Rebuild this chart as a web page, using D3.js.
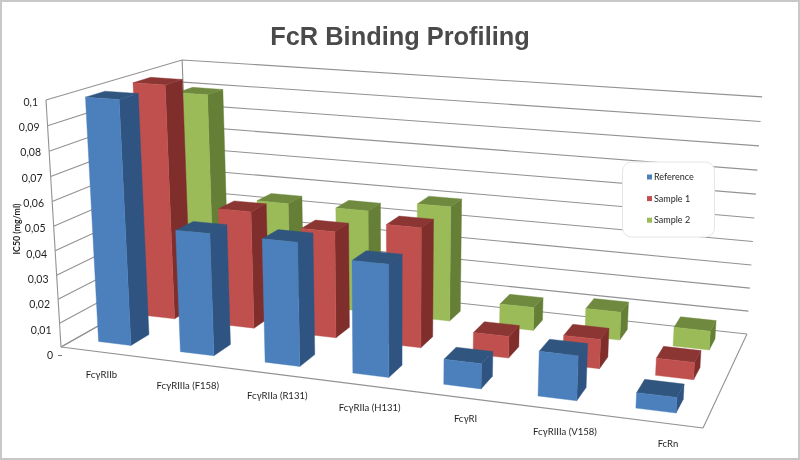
<!DOCTYPE html>
<html><head><meta charset="utf-8">
<script src="https://cdnjs.cloudflare.com/ajax/libs/d3/7.8.5/d3.min.js"></script>
<style>html,body{margin:0;padding:0;background:#fff}svg{display:block;filter:blur(0.35px)}</style>
</head><body><svg id="c" width="800" height="460"></svg>
<script>
const title = "FcR Binding Profiling";
const axisTitle = "IC50 (mg/ml)";
const categories = ["FcγRIIb","FcγRIIIa (F158)","FcγRIIa (R131)","FcγRIIa (H131)","FcγRI","FcγRIIIa (V158)","FcRn"];
const seriesNames = ["Reference","Sample 1","Sample 2"];
const reference = [0.1,0.05,0.05,0.045,0.01,0.0175,0.006];
const sample1   = [0.1,0.05,0.045,0.05,0.009,0.012,0.007];
const sample2   = [0.09,0.045,0.045,0.05,0.01,0.012,0.008];
const seriesValues = [reference,sample1,sample2];
const yTicks = d3.range(0,11).map(i=>i/100);
const fmt = v => v===0 ? "0" : String(+v.toFixed(2)).replace(".",",");
const palette = [
  {front:"#4c80bd",side:"#2f5482",top:"#30557f"},
  {front:"#c0504d",side:"#7f2e2c",top:"#8c3634"},
  {front:"#9bbb59",side:"#657f36",top:"#6f8a3f"}];

// Perspective of the chart box: unit cube (u along categories, v into depth, h up) to the page.
const A=[61,347],B=[703,428],D=[747,334],C=[190,274],H=[46,100],cH=-0.043;
const dx3=A[0]-B[0]+D[0]-C[0],dy3=A[1]-B[1]+D[1]-C[1],
      dx1=B[0]-D[0],dx2=C[0]-D[0],dy1=B[1]-D[1],dy2=C[1]-D[1],den=dx1*dy2-dx2*dy1;
const aU=(dx3*dy2-dx2*dy3)/den,bV=(dx1*dy3-dx3*dy1)/den;
const X=[A[0],B[0]*(1+aU)-A[0],C[0]*(1+bV)-A[0],H[0]*(1+cH)-A[0]],
      Y=[A[1],B[1]*(1+aU)-A[1],C[1]*(1+bV)-A[1],H[1]*(1+cH)-A[1]];
const project=(u,v,h)=>{const w=1+aU*u+bV*v+cH*h;
  return [(X[0]+X[1]*u+X[2]*v+X[3]*h)/w,(Y[0]+Y[1]*u+Y[2]*v+Y[3]*h)/w];};

const uScale=d3.scaleBand().domain(categories).range([0,1]).paddingInner(0.6).paddingOuter(0.3).align(0.475);
const vScale=d3.scaleBand().domain(seriesNames).range([0,1]).paddingInner(0.6).paddingOuter(0.3);
const hScale=d3.scaleLinear().domain([0,0.1]).range([0,1]);

const svg=d3.select("#c");
const line=d3.line();
svg.append("rect").attr("x",1).attr("y",1).attr("width",798).attr("height",458)
  .attr("fill","#fff").attr("stroke","#c8c8c8").attr("stroke-width",2);

svg.append("text").attr("x",400).attr("y",44.5).attr("text-anchor","middle")
  .attr("font-family","'Liberation Sans',Arial,sans-serif").attr("font-weight","bold")
  .attr("font-size",25.4).attr("fill","#4a4a4a").text(title);

// walls and floor
const grid=svg.append("g").attr("fill","none").attr("stroke","#929292").attr("stroke-width",1.1);
yTicks.forEach(t=>{const h=hScale(t);
  grid.append("path").attr("d",line([project(0,0,h),project(0,1,h),project(1,1,h)]));});
[[[0,0,0],[0,0,1]],[[0,1,0],[0,1,1]],[[0,0,0],[1,0,0]],[[1,0,0],[1,1,0]],[[0,0,0],[0,1,0]]]
  .forEach(s=>grid.append("path").attr("d",line(s.map(p=>project(...p)))));

// bars, back row first
const bars=svg.append("g");
d3.range(seriesNames.length-1,-1,-1).forEach(j=>{
  const name=seriesNames[j],c=palette[j];
  categories.forEach((cat,i)=>{
    const u0=uScale(cat),u1=u0+uScale.bandwidth(),v0=vScale(name),v1=v0+vScale.bandwidth(),
          h=hScale(seriesValues[j][i]);
    const g=bars.append("g");
    const face=(pts,fill)=>g.append("path").attr("d",line(pts.map(p=>project(...p)))+"Z")
      .attr("fill",fill).attr("stroke",fill).attr("stroke-width",0.4);
    face([[u1,v0,0],[u1,v1,0],[u1,v1,h],[u1,v0,h]],c.side);
    face([[u0,v0,h],[u1,v0,h],[u1,v1,h],[u0,v1,h]],c.top);
    face([[u0,v0,0],[u1,v0,0],[u1,v0,h],[u0,v0,h]],c.front);
  });
});

// value axis labels
const font="Lato,'Open Sans',sans-serif";
const labelY=d3.scaleLinear().domain([0,0.1]).range([359,105.5]);
const labelX=d3.scaleLinear().domain([0,0.1]).range([53,38]);
const ya=svg.append("g").attr("font-family",font).attr("font-size",10.5).attr("fill","#1f1f1f");
yTicks.forEach(t=>ya.append("text").attr("x",labelX(t)).attr("y",labelY(t))
  .attr("text-anchor","end").text(fmt(t)));
svg.append("path").attr("d",line([[58,355.5],[62,355.5]])).attr("stroke","#777").attr("fill","none");
svg.append("text").attr("transform","translate(20,229) rotate(-90)").attr("text-anchor","middle")
  .attr("font-family",font).attr("font-weight","bold").attr("font-size",8.8).attr("fill","#1f1f1f").text(axisTitle);

// category labels
const ca=svg.append("g").attr("font-family",font).attr("font-size",9.5).attr("fill","#1f1f1f");
categories.forEach(cat=>{const u=uScale(cat)+uScale.bandwidth()/2,p=project(u,0,0);
  ca.append("text").attr("x",p[0]+1+20*(u-0.07)).attr("y",p[1]+26).attr("text-anchor","middle").text(cat);});

// legend
const lg=svg.append("g");
lg.append("rect").attr("x",622.5).attr("y",162).attr("width",92).attr("height",75).attr("rx",9)
  .attr("fill","#fff").attr("stroke","#e6e6e6");
seriesNames.forEach((n,j)=>{const y=177+21.6*j;
  lg.append("rect").attr("x",647).attr("y",y-2.5).attr("width",5).attr("height",5).attr("fill",palette[j].front);
  lg.append("text").attr("x",654).attr("y",y+3).attr("font-family",font).attr("font-size",9).attr("fill","#1f1f1f").text(n);});
</script></body></html>
